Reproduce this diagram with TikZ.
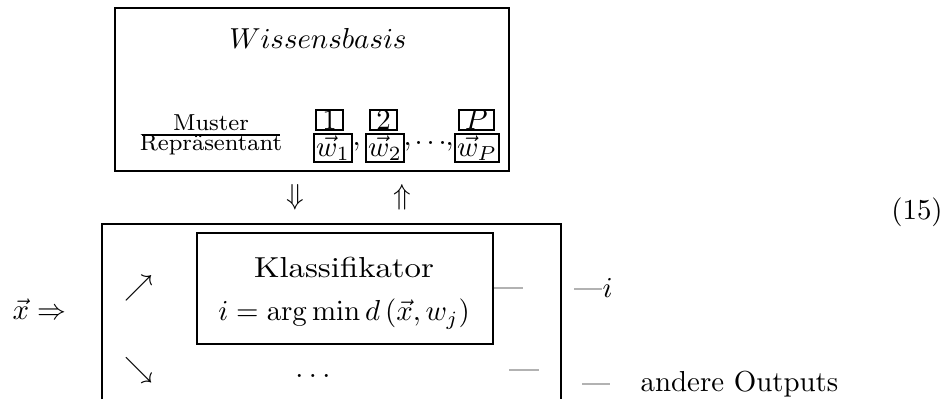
\documentclass[tikz,border=0pt]{standalone}
\usepackage{amsmath}
\begin{document}
\begin{tikzpicture}[x=0.346pt,y=-0.346pt,
  box/.style={draw,line width=0.7pt,inner sep=0pt},
  tag/.style={draw,line width=0.7pt,inner sep=0pt,minimum width=9.3pt},
  wbox/.style={draw,line width=0.7pt,inner sep=0.6pt},
  gline/.style={draw=black!30,line width=0.7pt},
  txt/.style={inner sep=0pt}
]
\useasboundingbox (0,0) rectangle (946,399);
% Wissensbasis box
\node[box,minimum width=136.3pt,minimum height=56.4pt] (kb) at (312,89.5) {};
\node[txt] (wb) at (318,38) {$Wissensbasis$};
\node[txt,anchor=base] (mu) at (211,130) {\footnotesize Muster};
\node[txt,anchor=base] (re) at (211,150.5) {\footnotesize Repräsentant};
\coordinate (fl) at (142,135);
\coordinate (fr) at (280,135);
\draw[line width=0.6pt] (fl) -- (fr);
\node[tag] (t1) at (329.5,120) {1};
\node[tag] (t2) at (383.5,120) {2};
\node[tag,minimum width=12pt] (tP) at (476.5,120) {$P$};
\node[wbox] (w1) at (333,148) {$\vec{w}_1$};
\node[wbox] (w2) at (385,148) {$\vec{w}_2$};
\node[wbox] (wP) at (477,148) {$\vec{w}_P$};
\node[txt,anchor=base west] (c1) at (352,145) {$,$};
\node[txt,anchor=base west] (c2) at (403,145) {$,$};
\node[txt,anchor=base west] (c3) at (414,144) {.\kern1.4pt.\kern1.4pt.};
\node[txt,anchor=base west] (c4) at (445,145) {$,$};
% arrows between
\node[txt] (dn) at (295,197) {$\Downarrow$};
\node[txt] (up) at (402,197) {$\Uparrow$};
% outer open box
\draw[line width=0.7pt] (102,399) -- (102,224) -- (561,224) -- (561,399);
% Klassifikator
\node[box,minimum width=102.4pt,minimum height=38.4pt] (kl) at (345,288.5) {};
\node[txt] (kt) at (344,267) {\scalebox{1.135}[1]{Klassifikator}};
\node[txt] (kf) at (344,314) {$i=\arg\min d\left(\vec{x},w_j\right)$};
\node[txt] (ne) at (139,288) {$\nearrow$};
\node[txt] (se) at (139,370.5) {$\searrow$};
\node[txt,anchor=base] (dots) at (313,377.7) {.\kern1.9pt.\kern1.9pt.};
% input
\node[txt,anchor=base west] (xin) at (12,319) {$\vec{x}\Rightarrow$};
% gray output lines
\coordinate (g1a) at (494,288); \coordinate (g1b) at (523,288);
\coordinate (g2a) at (509,370); \coordinate (g2b) at (539,370);
\coordinate (g3a) at (574,289); \coordinate (g3b) at (602,289);
\coordinate (g4a) at (582,384); \coordinate (g4b) at (610,384);
\draw[gline] (g1a) -- (g1b);
\draw[gline] (g2a) -- (g2b);
\draw[gline] (g3a) -- (g3b);
\draw[gline] (g4a) -- (g4b);
\node[txt,anchor=base west] (iout) at (602,297) {$i$};
\node[txt,anchor=base west] (ao) at (640,391.5) {andere Outputs};
\node[txt] (eq) at (917,212) {(15)};
\end{tikzpicture}
\end{document}
